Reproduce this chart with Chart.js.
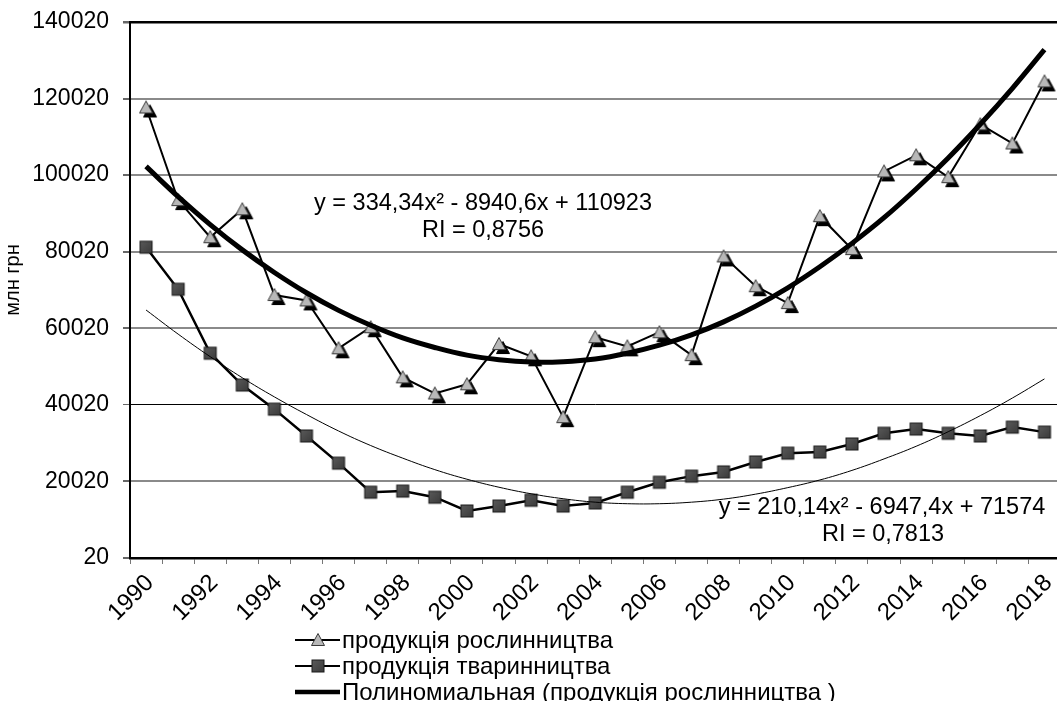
<!DOCTYPE html>
<html>
<head>
<meta charset="utf-8">
<script src="https://cdn.jsdelivr.net/npm/chart.js@4.4.1/dist/chart.umd.min.js"></script>
<style>
html, body { margin: 0; padding: 0; background: #fff; overflow: hidden; }
#wrap { width: 1070px; height: 701px; }
</style>
</head>
<body>
<div id="wrap"><canvas id="myChart"></canvas></div>
<script>
// values
const years = ["1990", "1991", "1992", "1993", "1994", "1995", "1996", "1997", "1998", "1999",
    "2000", "2001", "2002", "2003", "2004", "2005", "2006", "2007", "2008", "2009",
    "2010", "2011", "2012", "2013", "2014", "2015", "2016", "2017", "2018"]
const crop = [117700, 93500, 83800, 91100, 68700, 67300, 54800, 60300, 47200, 43000,
    45400, 55900, 52700, 36800, 57700, 55300, 59000, 53000, 78800, 71000,
    66600, 89300, 80700, 101000, 105200, 99500, 113300, 108300, 124500]
const livestock = [81200, 70200, 53500, 45200, 38900, 31900, 24800, 17200, 17500, 15900,
    12300, 13600, 15100, 13600, 14400, 17200, 19800, 21400, 22500, 25100,
    27400, 27700, 29800, 32600, 33700, 32600, 31900, 34200, 32900]
// trend curves as drawn (polynomial trendlines)
const cropTrend = [102300, 94400, 87100, 80500, 74600, 69300, 64700, 60800, 57500, 55000,
    53000, 51800, 51200, 51300, 52000, 53500, 55600, 58300, 61700, 65800,
    70600, 76100, 82200, 88900, 96400, 104500, 113300, 122700, 132800]
const livestockTrend = [64800, 58500, 52600, 47100, 42100, 37500, 33200, 29400, 26100, 23100,
    20600, 18500, 16800, 15500, 14600, 14200, 14200, 14600, 15400, 16700,
    18400, 20400, 22900, 25900, 29200, 33000, 37200, 41800, 46800]
const yTicks = [20, 20020, 40020, 60020, 80020, 100020, 120020, 140020]

const seriesNames = ["продукція рослинництва", "продукція тваринництва",
    "Полиномиальная (продукція рослинництва )", "Полиномиальная (продукція тваринництва)"]
const cropEq = ["y = 334,34x² - 8940,6x + 110923", "RI = 0,8756"]
const livestockEq = ["y = 210,14x² - 6947,4x + 71574", "RI = 0,7813"]
const yTitle = "млн грн"

const FONT = '"Liberation Sans", Arial, sans-serif'

function drawTri(g, cx, cy, fill, stroke) {
    g.beginPath()
    g.moveTo(cx, cy - 6.5)
    g.lineTo(cx + 6.5, cy + 5.5)
    g.lineTo(cx - 6.5, cy + 5.5)
    g.closePath()
    g.fillStyle = fill
    g.fill()
    g.strokeStyle = stroke
    g.lineWidth = 1
    g.stroke()
}

function drawSq(g, cx, cy) {
    let grd = g.createLinearGradient(cx - 6, cy - 6, cx + 6, cy + 6)
    grd.addColorStop(0, '#5a5a5a')
    grd.addColorStop(1, '#3a3a3a')
    g.fillStyle = grd
    g.fillRect(cx - 6, cy - 6, 12, 12)
    g.strokeStyle = '#1a1a1a'
    g.lineWidth = 1
    g.strokeRect(cx - 6, cy - 6, 12, 12)
}

// marker images
var triImg = document.createElement('canvas')
triImg.width = 28
triImg.height = 28
var tg = triImg.getContext('2d')
drawTri(tg, 18, 18, '#000', '#000')
drawTri(tg, 14, 14, '#b8b8b8', '#3a3a3a')

var sqImg = document.createElement('canvas')
sqImg.width = 16
sqImg.height = 16
drawSq(sqImg.getContext('2d'), 8, 8)

const extras = {
    id: 'extras',
    afterDraw(chart) {
        const ctx = chart.ctx
        ctx.save()
        ctx.fillStyle = '#000'
        ctx.textAlign = 'center'
        ctx.textBaseline = 'middle'
        ctx.font = '23.5px ' + FONT
        ctx.fillText(cropEq[0], 483, 204)
        ctx.fillText(cropEq[1], 483, 231)
        ctx.fillText(livestockEq[0], 882, 508)
        ctx.fillText(livestockEq[1], 883, 535)

        // y title
        ctx.save()
        ctx.translate(13, 280)
        ctx.rotate(-Math.PI / 2)
        ctx.font = '20px ' + FONT
        ctx.fillText(yTitle, 0, 0)
        ctx.restore()

        // legend
        const rows = [640, 666, 692]
        ctx.textAlign = 'left'
        ctx.font = '24px ' + FONT
        for (var i = 0; i < 3; i++) {
            var y = rows[i]
            ctx.strokeStyle = '#000'
            ctx.lineWidth = i == 2 ? 4.5 : 2
            ctx.beginPath()
            ctx.moveTo(295, y)
            ctx.lineTo(340, y)
            ctx.stroke()
            if (i == 0) drawTri(ctx, 318, y, '#b8b8b8', '#3a3a3a')
            if (i == 1) drawSq(ctx, 318, y)
            ctx.fillStyle = '#000'
            ctx.fillText(seriesNames[i], 342, y + 1)
        }
        ctx.restore()
    }
}

let myChart = new Chart(document.getElementById('myChart'), {
    type: 'line',
    data: {
        labels: years,
        datasets: [{
            label: seriesNames[0],
            data: crop,
            borderColor: '#000',
            borderWidth: 2,
            pointStyle: triImg,
            pointRadius: 7,
            order: 2
        }, {
            label: seriesNames[1],
            data: livestock,
            borderColor: '#000',
            borderWidth: 2.5,
            pointStyle: sqImg,
            pointRadius: 7,
            order: 3
        }, {
            label: seriesNames[2],
            data: cropTrend,
            borderColor: '#000',
            borderWidth: 5,
            pointRadius: 0,
            tension: 0.4,
            order: 0
        }, {
            label: seriesNames[3],
            data: livestockTrend,
            borderColor: '#000',
            borderWidth: 1,
            pointRadius: 0,
            tension: 0.4,
            order: 1
        }]
    },
    options: {
        responsive: true,
        maintainAspectRatio: false,
        animation: false,
        layout: { padding: { top: 22, right: 4, left: 0, bottom: 0 } },
        plugins: {
            legend: { display: false },
            tooltip: { enabled: false }
        },
        scales: {
            x: {
                offset: true,
                afterFit: function (scale) { scale.height = 143 },
                border: { color: '#000', width: 2.5 },
                grid: { offset: true, drawOnChartArea: false, tickLength: 6, color: '#777' },
                ticks: {
                    autoSkip: false,
                    maxRotation: 45,
                    minRotation: 45,
                    padding: 5,
                    labelOffset: 4,
                    color: '#000',
                    font: { family: FONT, size: 24 },
                    callback: function (val, idx) { return idx % 2 == 0 ? this.getLabelForValue(val) : '' }
                }
            },
            y: {
                min: 20,
                max: 140020,
                afterFit: function (scale) {
                    scale.width = 130
                    scale.paddingTop = 5
                    scale.paddingBottom = 5
                },
                afterBuildTicks: function (scale) { scale.ticks = yTicks.map(v => ({ value: v })) },
                border: { color: '#000', width: 2 },
                grid: {
                    tickLength: 7,
                    tickColor: '#666',
                    color: c => (c.tick && (c.tick.value == 40020 || c.tick.value == 140020)) ? '#000' : '#8a8a8a',
                    lineWidth: c => c.tick && c.tick.value == 140020 ? 2.5 : (c.tick && c.tick.value == 40020 ? 1 : 2)
                },
                ticks: {
                    padding: 14,
                    color: '#000',
                    font: { family: FONT, size: 23 },
                    callback: v => String(v)
                }
            }
        }
    },
    plugins: [extras]
})
</script>
</body>
</html>
